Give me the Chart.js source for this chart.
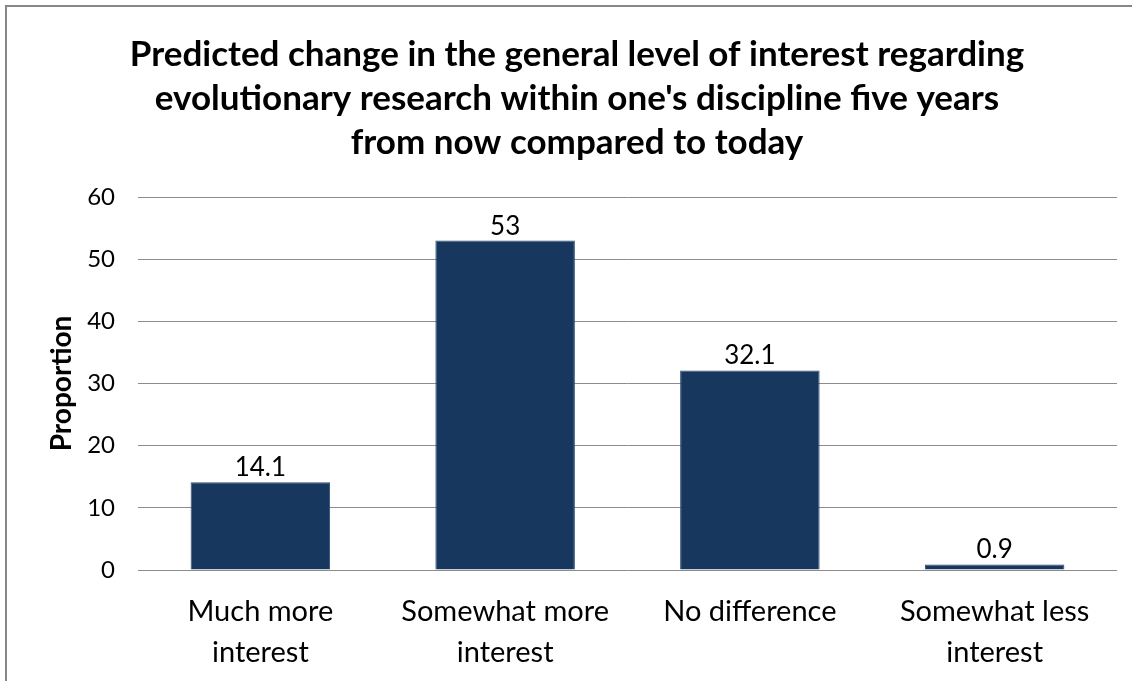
<!DOCTYPE html>
<html>
<head>
<meta charset="utf-8">
<script src="https://cdn.jsdelivr.net/npm/chart.js@4.4.1/dist/chart.umd.min.js"></script>
<style>
  html, body { margin: 0; padding: 0; background: #ffffff; }
  #wrap { position: relative; width: 1138px; height: 681px; overflow: hidden; }
  #frame {
    position: absolute; left: 5px; top: 5px; width: 1125px; height: 690px;
    border-left: 2px solid #878787; border-top: 2px solid #878787;
    pointer-events: none;
  }
  canvas { display: block; }
</style>
</head>
<body>
<div id="wrap">
  <canvas id="chart" width="1138" height="681"></canvas>
  <div id="frame"></div>
</div>
<script>
// Survey answers and the share of respondents giving each one
const categories = [
  ['Much more', 'interest'],
  ['Somewhat more', 'interest'],
  ['No difference'],
  ['Somewhat less', 'interest']
];
const proportions = [14.1, 53, 32.1, 0.9];
const titleLines = [
  'Predicted change in the general level of interest regarding',
  "evolutionary research within one's discipline five years",
  'from now compared to today'
];
const yTicks = [0, 10, 20, 30, 40, 50, 60];

const FONT = 'Lato, "Open Sans", "DejaVu Sans", sans-serif';

// Writes each bar's value just above its top edge
const valueLabels = {
  id: 'valueLabels',
  afterDatasetsDraw(chart) {
    const ctx = chart.ctx;
    const meta = chart.getDatasetMeta(0);
    ctx.save();
    ctx.font = '26px ' + FONT;
    ctx.fillStyle = '#000000';
    ctx.textAlign = 'center';
    ctx.textBaseline = 'alphabetic';
    meta.data.forEach((bar, i) => {
      ctx.fillText(String(chart.data.datasets[0].data[i]), bar.x, bar.y - 6);
    });
    ctx.restore();
  }
};

new Chart(document.getElementById('chart'), {
  type: 'bar',
  data: {
    labels: categories,
    datasets: [{
      data: proportions,
      backgroundColor: '#17375E',
      borderColor: '#2a4a72',
      borderWidth: 1,
      categoryPercentage: 1.0,
      barPercentage: 0.57
    }]
  },
  options: {
    responsive: false,
    devicePixelRatio: 1,
    animation: false,
    layout: { padding: { left: 37, right: 21, top: 0, bottom: 0 } },
    plugins: {
      legend: { display: false },
      tooltip: { enabled: false },
      title: {
        display: true,
        text: titleLines,
        color: '#000000',
        font: { family: FONT, size: 35, weight: 'bold', lineHeight: '44px' },
        padding: { top: 33, bottom: 32 }
      }
    },
    scales: {
      x: {
        grid: { display: false, drawTicks: false },
        border: { display: false },
        ticks: {
          color: '#000000',
          padding: 21,
          maxRotation: 0,
          autoSkip: false,
          font: { family: FONT, size: 29, lineHeight: '41px' }
        },
        afterFit(scale) { scale.height = 111; }
      },
      y: {
        min: 0,
        max: 60,
        afterBuildTicks(scale) { scale.ticks = yTicks.map(v => ({ value: v })); },
        grid: { color: '#8c8c8c', lineWidth: 1, drawTicks: false },
        border: { display: false },
        ticks: {
          color: '#000000',
          padding: 23,
          font: { family: FONT, size: 24 }
        },
        title: {
          display: true,
          text: 'Proportion',
          color: '#000000',
          font: { family: FONT, size: 28, weight: 'bold', lineHeight: 1.2 },
          padding: { top: 8, bottom: 0 }
        },
        afterFit(scale) { scale.width = 101; }
      }
    }
  },
  plugins: [valueLabels]
});
</script>
</body>
</html>
